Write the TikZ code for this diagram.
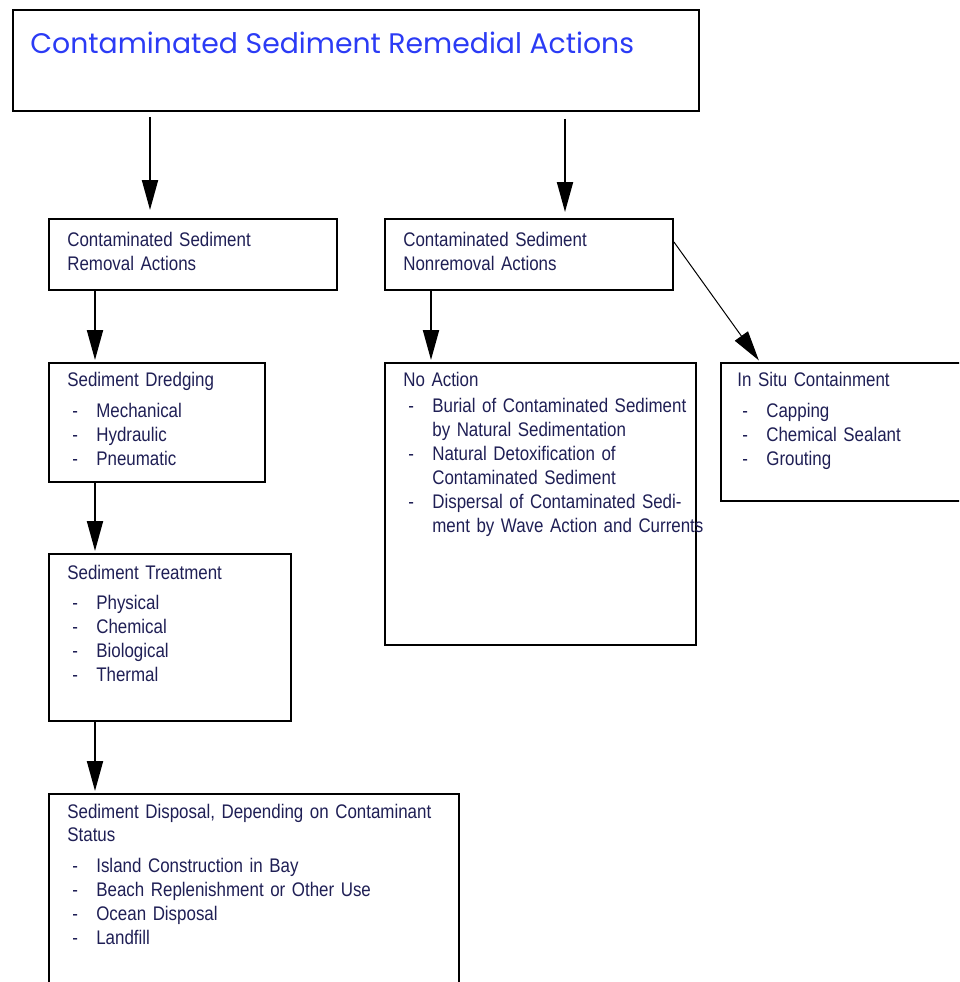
\documentclass[tikz,border=0pt]{standalone}
\usepackage{fontspec}
\setmainfont{Liberation Sans}[FakeStretch=0.86]
\newfontfamily\headfont{Poppins}
\usetikzlibrary{positioning,arrows.meta,calc}
\definecolor{sedtitle}{HTML}{2B3BF5}
\definecolor{sedtext}{HTML}{1F1F55}
\DeclareRobustCommand{\sedfont}{\fontsize{11.2}{13.65}\selectfont\spaceskip=0.2em plus 0.1em\relax}
\newcommand{\itm}[1]{\makebox[0.58cm][l]{\hspace{0.1cm}-}#1}
\newcommand{\cnt}[1]{\hspace*{0.58cm}#1}

\begin{document}
\begin{tikzpicture}[x=0.02cm,y=-0.02cm,
  box/.style={draw=black,line width=0.04cm,anchor=north west,inner sep=0pt},
  txt/.style={anchor=base west,inner sep=0pt,text width=8cm,align=left,text=sedtext,
    font=\sedfont},
  arr/.style={line width=0.04cm,-{Triangle[length=0.6cm,width=0.32cm]}},
  thinarr/.style={line width=0.02cm,-{Triangle[length=0.6cm,width=0.32cm]}}
]
\clip (0,0) rectangle (959,982);
\useasboundingbox (0,0) rectangle (959,982);
% boxes
\node[box,minimum width=13.72cm,minimum height=2.02cm] (title) at (12,9) {};
\node[box,minimum width=5.76cm,minimum height=1.42cm] (rem) at (48,218) {};
\node[box,minimum width=5.76cm,minimum height=1.42cm] (nonrem) at (384,218) {};
\node[box,minimum width=4.32cm,minimum height=2.38cm] (dredge) at (48,362) {};
\node[box,minimum width=4.84cm,minimum height=3.34cm] (treat) at (48,553) {};
\node[box,minimum width=8.2cm,minimum height=4.4cm] (dispo) at (48,793) {};
\node[box,minimum width=6.22cm,minimum height=5.64cm] (noact) at (384,362) {};
\node[box,minimum width=5.2cm,minimum height=2.76cm] (insitu) at (720,362) {};
% texts
\node[anchor=base west,inner sep=0pt,text=sedtitle,font=\headfont\fontsize{16.1}{18}\selectfont] (titletxt) at (30,54) {Contaminated Sediment Remedial Actions};
\node[txt] (remtxt) at (67,247) {Contaminated Sediment\\Removal Actions};
\node[txt] (nonremtxt) at (403,247) {Contaminated Sediment\\Nonremoval Actions};
\node[txt] (dredgetxt) at (67,387) {Sediment Dredging\\[0.14cm]
  \itm{Mechanical}\\\itm{Hydraulic}\\\itm{Pneumatic}};
\node[txt] (treattxt) at (67,579) {Sediment Treatment\\[0.14cm]
  \itm{Physical}\\\itm{Chemical}\\\itm{Biological}\\\itm{Thermal}};
\node[txt] (dispotxt) at (67,818) {Sediment Disposal, Depending on Contaminant\\Status\\[0.14cm]
  \itm{Island Construction in Bay}\\\itm{Beach Replenishment or Other Use}\\
  \itm{Ocean Disposal}\\\itm{Landfill}};
\node[txt] (noacttxt) at (403,387) {No Action\\[0.04cm]
  \itm{Burial of Contaminated Sediment}\\\cnt{by Natural Sedimentation}\\
  \itm{Natural Detoxification of}\\\cnt{Contaminated Sediment}\\
  \itm{Dispersal of Contaminated Sedi-}\\\cnt{ment by Wave Action and Currents}};
\node[txt] (insitutxt) at (737,387) {In Situ Containment\\[0.14cm]
  \itm{Capping}\\\itm{Chemical Sealant}\\\itm{Grouting}};
% connectors
\draw[arr,shorten <=0.1cm,shorten >=0.16cm] (title.south -| 150,0) -- (rem.north -| 150,0);
\draw[arr,shorten <=0.14cm,shorten >=0.12cm] (title.south -| 565,0) -- (nonrem.north -| 565,0);
\draw[arr,shorten >=0.04cm] (rem.south -| 95,0) -- (dredge.north -| 95,0);
\draw[arr,shorten >=0.04cm] (dredge.south -| 95,0) -- (treat.north -| 95,0);
\draw[arr,shorten >=0.04cm] (treat.south -| 95,0) -- (dispo.north -| 95,0);
\draw[arr,shorten >=0.04cm] (nonrem.south -| 431,0) -- (noact.north -| 431,0);
\draw[thinarr,shorten >=0.04cm] ($(nonrem.north east)+(0,24)$) -- ($(insitu.north west)+(40,0)$);
\end{tikzpicture}
\end{document}
